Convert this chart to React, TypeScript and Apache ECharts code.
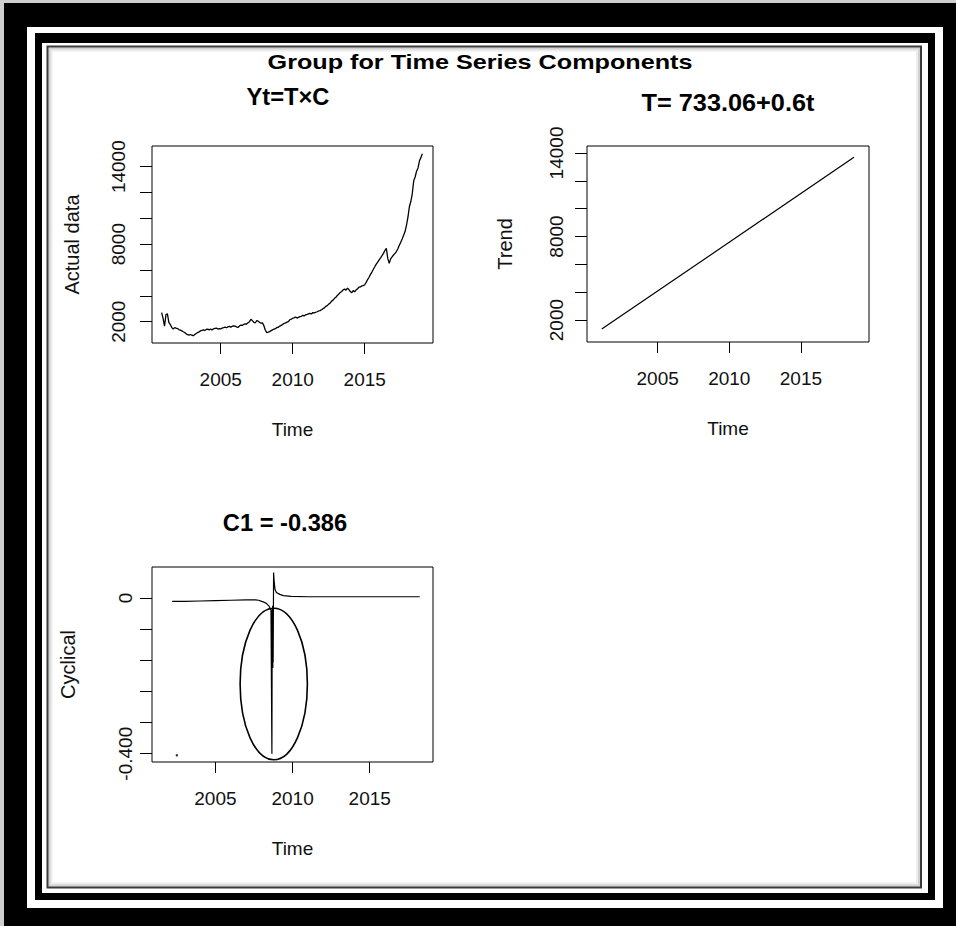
import React, { useEffect, useRef } from "react";
import * as echarts from "echarts";

// ---------- DATA ----------
// Actual data (Yt), regular series starting 2000.9, one value every 0.1 year
const actualStartYear = 2000.9;
const actualStepYears = 0.1;
const actualValues = [
  2700,
  2250, 1650, 2550, 2600, 1950, 1780, 1560, 1430, 1540, 1500,
  1470, 1390, 1340, 1290, 1220, 1160, 1060, 990, 960, 1010,
  950, 920, 1010, 1090, 1160, 1210, 1290, 1330, 1370, 1320,
  1400, 1420, 1370, 1430, 1350, 1450, 1490, 1510, 1430, 1470,
  1440, 1510, 1540, 1580, 1530, 1600, 1630, 1580, 1650, 1670,
  1660, 1600, 1550, 1660, 1740, 1710, 1790, 1830, 1820, 1910,
  2000, 2190, 2080, 1960, 1900, 2090, 2040, 1950, 1880, 1910,
  1680, 1340, 1150, 1190, 1230, 1310, 1370, 1430, 1460, 1550,
  1570, 1660, 1710, 1790, 1860, 1910, 1960, 2010, 2150, 2190,
  2270, 2300, 2360, 2280, 2340, 2390, 2420, 2490, 2450, 2530,
  2560, 2610, 2650, 2600, 2710, 2680, 2730, 2770, 2830, 2860,
  2920, 3010, 3070, 3190, 3240, 3360, 3440, 3590, 3670, 3810,
  3890, 4030, 4140, 4260, 4340, 4460, 4520, 4440, 4600, 4490,
  4330, 4240, 4410, 4310, 4460, 4550, 4670, 4690, 4770, 4790,
  4860, 5040, 5260, 5440, 5660, 5840, 6060, 6250, 6460, 6610,
  6790, 6940, 7110, 7290, 7510, 7680, 6900, 6520, 6860, 7020,
  7160, 7290, 7430, 7640, 7910, 8140, 8410, 8690, 8980, 9480,
  10100, 10900, 11300, 11900, 12900, 13200, 13650, 13900, 14450, 14700,
  15000,
];

// Trend line T
const trendYears = [2001.1, 2018.7];
const trendValues = [1355, 13685];

// Cyclical component
const cycYears = [
  2002.2, 2003.0, 2004.0, 2005.0, 2006.0, 2007.0, 2007.6, 2007.8, 2008.0, 2008.15,
  2008.3, 2008.47, 2008.6, 2008.66, 2008.68, 2008.7, 2008.71, 2008.72, 2008.73, 2008.74,
  2008.77, 2008.8, 2008.86, 2008.95, 2009.17, 2009.4, 2009.9, 2011.0, 2013.0, 2015.0,
  2018.24,
];
const cycValues = [
  -0.009, -0.009, -0.008, -0.007, -0.006, -0.005, -0.005, -0.006, -0.009, -0.011,
  -0.014, -0.021, -0.031, -0.4, -0.03, -0.17, -0.02, -0.18, -0.03, -0.165,
  0.065, 0.045, 0.022, 0.014, 0.009, 0.006, 0.004, 0.003, 0.003, 0.003,
  0.003,
];
const cycDotYears = [2002.5];
const cycDotValues = [-0.404];

// Circled region (annotation) in data units: centre and radii
const ellipseCentre = [2008.78, -0.221];
const ellipseRadii = [2.18, 0.1945];

// Tick values and labels
const yearTicks = [2005, 2010, 2015];
const levelTicks = [2000, 4000, 6000, 8000, 10000, 12000, 14000];
const levelTickLabels = [2000, 8000, 14000];
const cycTicks = [0, -0.08, -0.16, -0.24, -0.32, -0.4];
const cycTickLabels = [0, -0.4];
const cycTickTexts = ["0", "-0.400"];

// Titles
const mainTitle = "Group for Time Series Components";
const panelTitles = ["Yt=T\u00d7C", "T= 733.06+0.6t", "C1 = -0.386"];
const yNames = ["Actual data", "Trend", "Cyclical"];
const xName = "Time";

// ---------- STYLE ----------
const FONT = '"Liberation Sans", Arial, Helvetica, sans-serif';
const INK = "#000";

function xAxisFor(gridIndex: number, min: number, max: number) {
  return {
    type: "value",
    gridIndex,
    min,
    max,
    axisLine: { show: false, onZero: false },
    splitLine: { show: false },
    axisTick: {
      show: true,
      inside: false,
      length: 11,
      customValues: yearTicks,
      lineStyle: { color: INK, width: 1 },
    },
    axisLabel: {
      customValues: yearTicks,
      margin: 27,
      fontSize: 19,
      color: "#111",
      fontFamily: FONT,
      formatter: (v: number) => String(Math.round(v)),
    },
    name: xName,
    nameLocation: "middle",
    nameGap: 77,
    nameTextStyle: { fontSize: 19, color: "#111", fontFamily: FONT },
  };
}

function yAxisFor(
  gridIndex: number,
  min: number,
  max: number,
  ticks: number[],
  labels: number[],
  margin: number,
  name: string,
  nameGap: number,
  formatter: (v: number) => string
) {
  return {
    type: "value",
    gridIndex,
    min,
    max,
    axisLine: { show: false, onZero: false },
    splitLine: { show: false },
    axisTick: {
      show: true,
      inside: false,
      length: 12,
      customValues: ticks,
      lineStyle: { color: INK, width: 1 },
    },
    axisLabel: {
      customValues: labels,
      rotate: 90,
      margin,
      fontSize: 19,
      color: "#111",
      fontFamily: FONT,
      formatter,
    },
    name,
    nameLocation: "middle",
    nameRotate: 90,
    nameGap,
    nameTextStyle: { fontSize: 20, color: "#111", fontFamily: FONT },
  };
}

function titleText(text: string, x: number, y: number, size: number, scaleX: number) {
  return {
    type: "text",
    x,
    y,
    scaleX,
    z: 10,
    style: {
      text,
      x: 0,
      y: 0,
      fill: INK,
      fontSize: size,
      fontWeight: "bold",
      fontFamily: FONT,
      align: "center",
      textAlign: "center",
      verticalAlign: "middle",
      textVerticalAlign: "middle",
    },
  };
}

function frameElements() {
  const r = (x: number, y: number, w: number, h: number, style: any) => ({
    type: "rect",
    z: -100,
    silent: true,
    shape: { x, y, width: w, height: h },
    style,
  });
  return [
    r(0, 0, 956, 926, { fill: "#cfcfcf" }),
    r(4, 3, 952, 923, { fill: "#000" }),
    r(27, 27, 916, 881, { fill: "#fff" }),
    r(35, 33, 900, 867, { fill: "#000" }),
    r(42, 43, 886, 850, { fill: "#fff" }),
    r(47.5, 46.5, 873.5, 841, { fill: "#fff", stroke: "#3a3a3a", lineWidth: 2 }),
    r(49.5, 48.5, 869.5, 837, { fill: "none", stroke: "rgba(0,0,0,0.18)", lineWidth: 2 }),
    r(51.5, 50.5, 865.5, 833, { fill: "none", stroke: "rgba(0,0,0,0.07)", lineWidth: 2 }),
  ];
}

export default function App() {
  const ref = useRef<HTMLDivElement>(null);

  useEffect(() => {
    if (!ref.current) return;
    const chart = echarts.init(ref.current, null, { renderer: "svg" });

    const actualData = actualValues.map((v, i) => [actualStartYear + i * actualStepYears, v]);
    const trendData = trendYears.map((y, i) => [y, trendValues[i]]);
    const cycData = cycYears.map((y, i) => [y, cycValues[i]]);
    const dotData = cycDotYears.map((y, i) => [y, cycDotValues[i]]);

    const baseGraphics: any[] = [
      ...frameElements(),
      titleText(mainTitle, 480, 62, 20, 1.26),
      titleText(panelTitles[0], 288, 97, 23, 1.03),
      titleText(panelTitles[1], 728, 103, 23, 1.1),
      titleText(panelTitles[2], 285, 523, 23, 1.03),
    ];

    const lineStyle = { color: INK, width: 1.3 };

    chart.setOption({
      animation: false,
      backgroundColor: "#fff",
      grid: [
        { left: 152, top: 146, width: 281, height: 197, show: true, borderColor: INK, borderWidth: 1, backgroundColor: "transparent" },
        { left: 587, top: 146, width: 282, height: 196, show: true, borderColor: INK, borderWidth: 1, backgroundColor: "transparent" },
        { left: 152, top: 567, width: 281, height: 195, show: true, borderColor: INK, borderWidth: 1, backgroundColor: "transparent" },
      ],
      xAxis: [
        xAxisFor(0, 2000.23, 2019.74),
        xAxisFor(1, 2000.07, 2019.75),
        xAxisFor(2, 2000.89, 2019.1),
      ],
      yAxis: [
        yAxisFor(0, 350, 15600, levelTicks, levelTickLabels, 24, yNames[0], 70, (v) => String(Math.round(v))),
        yAxisFor(1, 425, 14500, levelTicks, levelTickLabels, 21, yNames[1], 72, (v) => String(Math.round(v))),
        yAxisFor(2, -0.4212, 0.0793, cycTicks, cycTickLabels, 17, yNames[2], 74, (v) => {
          const idx = cycTickLabels.findIndex((t) => Math.abs(t - v) < 1e-9);
          return idx >= 0 ? cycTickTexts[idx] : "";
        }),
      ],
      series: [
        { type: "line", xAxisIndex: 0, yAxisIndex: 0, data: actualData, showSymbol: false, symbol: "none", lineStyle, silent: true },
        { type: "line", xAxisIndex: 1, yAxisIndex: 1, data: trendData, showSymbol: false, symbol: "none", lineStyle: { color: INK, width: 1.2 }, silent: true },
        { type: "line", xAxisIndex: 2, yAxisIndex: 2, data: cycData, showSymbol: false, symbol: "none", lineStyle: { color: INK, width: 1.2 }, silent: true },
        { type: "scatter", xAxisIndex: 2, yAxisIndex: 2, data: dotData, symbolSize: 2.5, itemStyle: { color: INK }, silent: true },
      ],
      graphic: { elements: baseGraphics },
    });

    const c = chart.convertToPixel({ xAxisIndex: 2, yAxisIndex: 2 } as any, ellipseCentre) as number[];
    const e = chart.convertToPixel({ xAxisIndex: 2, yAxisIndex: 2 } as any, [
      ellipseCentre[0] + ellipseRadii[0],
      ellipseCentre[1] + ellipseRadii[1],
    ]) as number[];
    if (c && e) {
      chart.setOption({
        graphic: {
          elements: [
            ...baseGraphics,
            {
              type: "ellipse",
              z: 10,
              silent: true,
              shape: { cx: c[0], cy: c[1], rx: Math.abs(e[0] - c[0]), ry: Math.abs(e[1] - c[1]) },
              style: { fill: "none", stroke: INK, lineWidth: 1.6 },
            },
          ],
        },
      });
    }

    return () => chart.dispose();
  }, []);

  return (
    <div
      ref={ref}
      style={{ position: "fixed", left: 0, top: 0, width: 956, height: 926 }}
    />
  );
}
